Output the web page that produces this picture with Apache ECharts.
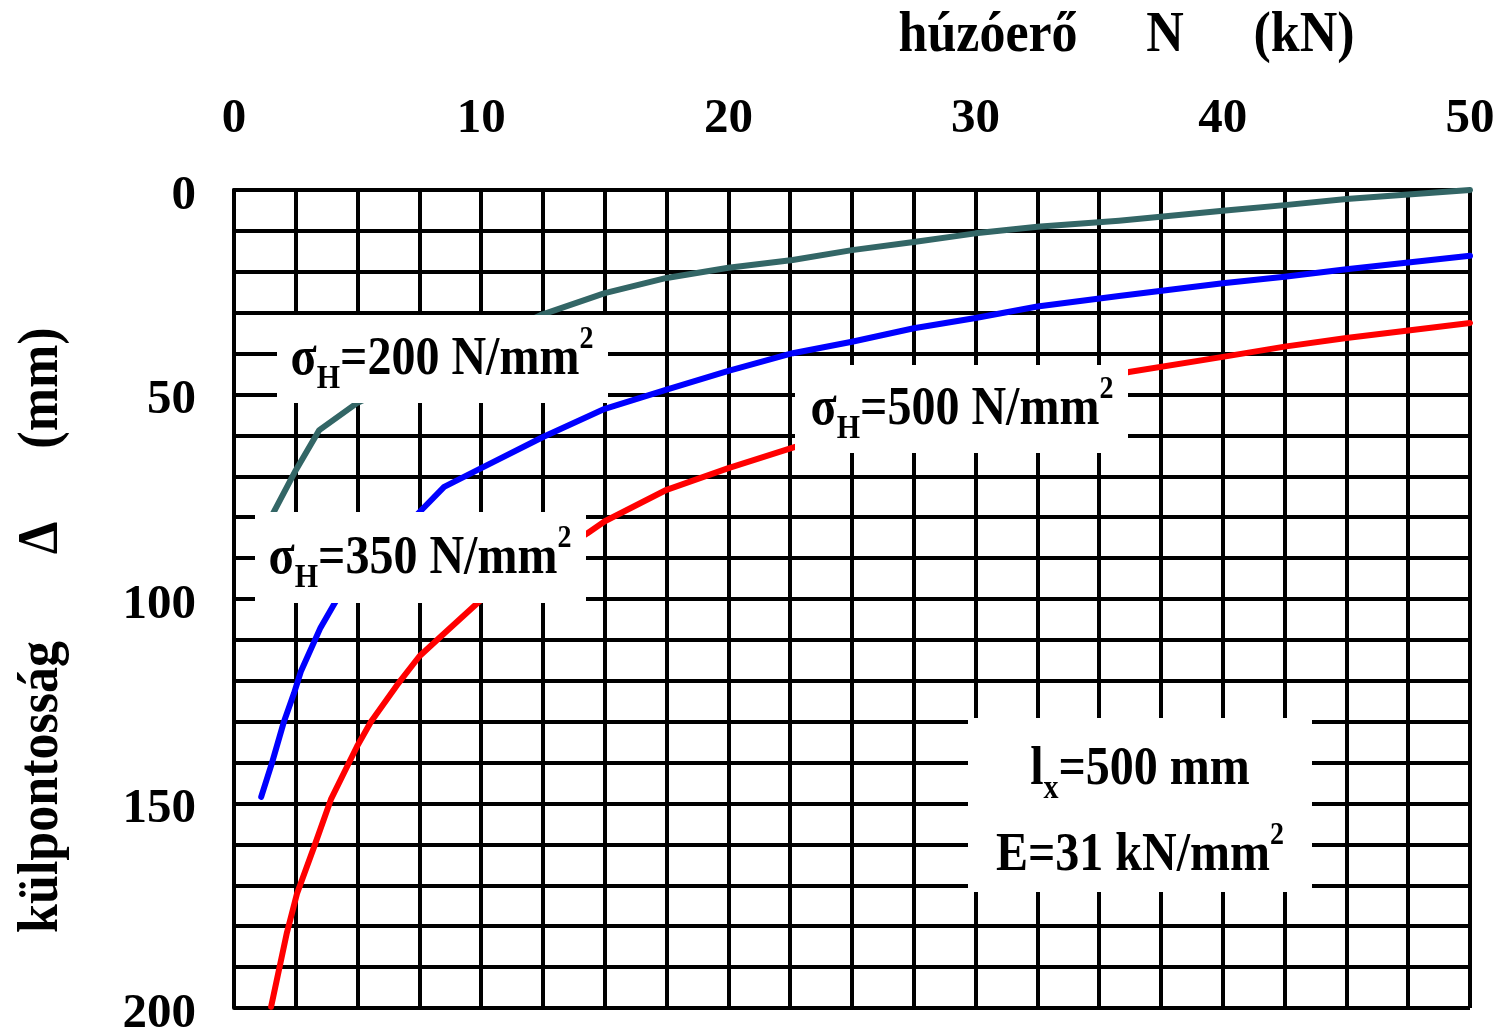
<!DOCTYPE html>
<html>
<head>
<meta charset="utf-8">
<script src="https://cdn.jsdelivr.net/npm/echarts@6/dist/echarts.min.js"></script>
<style>
html,body{margin:0;padding:0;background:#fff;}
#main{width:1502px;height:1029px;}
</style>
</head>
<body>
<div id="main"></div>
<script>
// ---- data ----
const xTickValues = [0, 10, 20, 30, 40, 50];
const yTickValues = [0, 50, 100, 150, 200];
// sigma_H = 200 N/mm2  [N (kN), Delta (mm)]
const sigma200 = [[1.3,84],[1.5,80],[2.5,68.5],[3.45,58.7],[5,52],[12.4,30.6],[15,25.2],[17.5,21.5],[20,19.0],[22.6,17.1],[25,14.7],[27.5,12.7],[30,10.6],[32.5,9.0],[35.8,7.5],[40,5.1],[42.5,3.7],[45,2.2],[50,0]];
// sigma_H = 350 N/mm2
const sigma350 = [[1.1,148.4],[1.54,140],[2.02,130],[2.43,123],[2.7,117.8],[3.5,107],[4.17,100],[7.3,80],[8.5,72.6],[10,68],[12.5,60.4],[15,53.5],[17.5,48.8],[20,44.2],[22.6,39.9],[25,37.1],[27.5,33.8],[30,31.3],[32.5,28.5],[35.8,25.9],[40,22.8],[42.5,21.2],[45,19.4],[50,16.1]];
// sigma_H = 500 N/mm2
const sigma500 = [[1.5,199.7],[2.14,181.6],[2.55,172],[3.24,160.6],[3.92,149],[4.98,136],[5.54,130],[6.6,121],[7.5,114],[8.4,109],[10.03,100],[14.3,83.9],[15,81],[17.5,73.3],[20,68],[22.7,62.8],[36.2,44.5],[40,40.8],[42.5,38.3],[45,36.2],[50,32.5]];
const seriesNames = ['σH=200 N/mm2', 'σH=350 N/mm2', 'σH=500 N/mm2'];
const seriesColors = ['#336666', '#0000ff', '#ff0000'];

const FONT = '"Liberation Serif", "Times New Roman", serif';
const chart = echarts.init(document.getElementById('main'), null, {renderer: 'canvas'});

const gridLine = {show: true, lineStyle: {color: '#000', width: 4}};
const richStyles = {
  a: {fontFamily: FONT, fontWeight: 'bold', fontSize: 48, lineHeight: 64, color: '#000'},
  b: {fontFamily: FONT, fontWeight: 'bold', fontSize: 30, lineHeight: 34, verticalAlign: 'bottom', color: '#000'},
  c: {fontFamily: FONT, fontWeight: 'bold', fontSize: 28, lineHeight: 30, verticalAlign: 'top', color: '#000'}
};
function box(x, y, w, h) {
  return {type: 'rect', z: 100, shape: {x: x, y: y, width: w, height: h}, style: {fill: '#fff'}};
}
function label(x, y, text) {
  return {type: 'text', z: 101, x: x, y: y, scaleY: 1.13,
    style: {text: text, rich: richStyles, align: 'center', verticalAlign: 'middle'}};
}
function title(x, y, text, rot) {
  return {type: 'text', z: 101, x: x, y: y, rotation: rot || 0, scaleY: 1.1,
    style: {text: text, fontFamily: FONT, fontWeight: 'bold', fontSize: 52, fill: '#000', align: 'center', verticalAlign: 'middle'}};
}

const option = {
  backgroundColor: '#fff',
  animation: false,
  grid: {left: 234, right: 32, top: 190, bottom: 21, containLabel: false, outerBoundsMode: 'none'},
  xAxis: {
    type: 'value', position: 'top', min: 0, max: 50, interval: 10,
    axisLine: {show: true, lineStyle: {color: '#000', width: 4}},
    axisTick: {show: false},
    axisLabel: {fontFamily: FONT, fontWeight: 'bold', fontSize: 49, color: '#000', margin: 46,
      formatter: v => (xTickValues.indexOf(v) >= 0 ? String(v) : '')},
    splitLine: gridLine,
    minorTick: {show: false, splitNumber: 4},
    minorSplitLine: gridLine
  },
  yAxis: {
    type: 'value', inverse: true, min: 0, max: 200, interval: 50,
    axisLine: {show: true, lineStyle: {color: '#000', width: 4}},
    axisTick: {show: false},
    axisLabel: {color: '#000', margin: 38,
      formatter: v => (yTickValues.indexOf(v) >= 0 ? '{v|' + v + '}' : ''),
      rich: {v: {fontFamily: FONT, fontWeight: 'bold', fontSize: 49, color: '#000', padding: [12, 0, 0, 0]}}},
    splitLine: gridLine,
    minorTick: {show: false, splitNumber: 5},
    minorSplitLine: gridLine
  },
  series: [sigma200, sigma350, sigma500].map((d, i) => ({
    name: seriesNames[i], type: 'line', data: d, showSymbol: false, smooth: false, z: 5,
    lineStyle: {color: seriesColors[i], width: 6, cap: 'round', join: 'round'},
    emphasis: {disabled: true}
  })),
  graphic: [
    title(988, 36, 'húzóerő'),
    title(1165, 36, 'N'),
    title(1304, 36, '(kN)'),
    title(42, 787, 'külpontosság', Math.PI / 2),
    title(42, 538, 'Δ', Math.PI / 2),
    title(42, 388, '(mm)', Math.PI / 2),
    box(277, 315, 331, 88),
    label(442, 360, '{a|σ}{b|H}{a|=200 N/mm}{c|2}'),
    box(255, 512, 331, 91),
    label(420, 559, '{a|σ}{b|H}{a|=350 N/mm}{c|2}'),
    box(795, 365, 333, 88),
    label(962, 410, '{a|σ}{b|H}{a|=500 N/mm}{c|2}'),
    box(968, 718, 344, 174),
    label(1140, 770, '{a|l}{b|x}{a|=500 mm}'),
    label(1140, 856, '{a|E=31 kN/mm}{c|2}')
  ]
};
chart.setOption(option);
</script>
</body>
</html>
